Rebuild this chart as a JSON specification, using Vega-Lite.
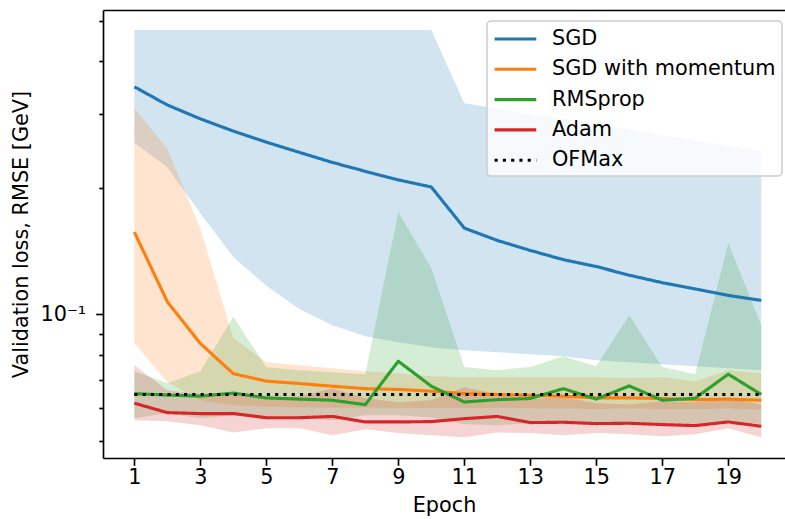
{
  "$schema": "https://vega.github.io/schema/vega-lite/v6.json",
  "width": 682,
  "height": 448,
  "autosize": {"type": "none"},
  "padding": {"left": 103, "top": 10, "right": 0, "bottom": 61},
  "background": "white",
  "config": {
    "view": {"stroke": null},
    "font": "DejaVu Sans",
    "axis": {
      "domainColor": "black", "domainWidth": 1.67, "tickColor": "black", "tickWidth": 1.67,
      "labelColor": "black", "titleColor": "black", "labelFont": "DejaVu Sans", "titleFont": "DejaVu Sans",
      "labelFontSize": 20.8, "titleFontSize": 20.8, "titleFontWeight": "normal", "grid": false
    },
    "legend": {
      "orient": "none", "legendX": 384, "legendY": 11, "title": null,
      "symbolType": "M-1,0H3", "symbolSize": 435, "symbolStrokeWidth": 3.125,
      "labelFont": "DejaVu Sans", "labelFontSize": 20.8, "labelColor": "black", "labelOffset": 35,
      "padding": 6, "fillColor": "rgba(255,255,255,0.8)", "strokeColor": "#cccccc", "strokeWidth": 1.5,
      "cornerRadius": 4, "rowPadding": 8.3, "labelLimit": 400
    }
  },
  "data": {"values": [
    {"epoch": 1, "optimizer": "SGD", "loss": 0.348, "lo": 0.256, "hi": 0.475},
    {"epoch": 2, "optimizer": "SGD", "loss": 0.315, "lo": 0.224, "hi": 0.475},
    {"epoch": 3, "optimizer": "SGD", "loss": 0.292, "lo": 0.174, "hi": 0.475},
    {"epoch": 4, "optimizer": "SGD", "loss": 0.273, "lo": 0.137, "hi": 0.475},
    {"epoch": 5, "optimizer": "SGD", "loss": 0.257, "lo": 0.117, "hi": 0.475},
    {"epoch": 6, "optimizer": "SGD", "loss": 0.243, "lo": 0.103, "hi": 0.475},
    {"epoch": 7, "optimizer": "SGD", "loss": 0.230, "lo": 0.0943, "hi": 0.475},
    {"epoch": 8, "optimizer": "SGD", "loss": 0.219, "lo": 0.0888, "hi": 0.475},
    {"epoch": 9, "optimizer": "SGD", "loss": 0.209, "lo": 0.0859, "hi": 0.475},
    {"epoch": 10, "optimizer": "SGD", "loss": 0.201, "lo": 0.0836, "hi": 0.475},
    {"epoch": 11, "optimizer": "SGD", "loss": 0.1605, "lo": 0.0822, "hi": 0.318},
    {"epoch": 12, "optimizer": "SGD", "loss": 0.150, "lo": 0.0813, "hi": 0.309},
    {"epoch": 13, "optimizer": "SGD", "loss": 0.142, "lo": 0.0804, "hi": 0.300},
    {"epoch": 14, "optimizer": "SGD", "loss": 0.135, "lo": 0.0795, "hi": 0.292},
    {"epoch": 15, "optimizer": "SGD", "loss": 0.130, "lo": 0.0778, "hi": 0.283},
    {"epoch": 16, "optimizer": "SGD", "loss": 0.124, "lo": 0.0770, "hi": 0.275},
    {"epoch": 17, "optimizer": "SGD", "loss": 0.119, "lo": 0.0761, "hi": 0.267},
    {"epoch": 18, "optimizer": "SGD", "loss": 0.115, "lo": 0.0753, "hi": 0.260},
    {"epoch": 19, "optimizer": "SGD", "loss": 0.111, "lo": 0.0745, "hi": 0.252},
    {"epoch": 20, "optimizer": "SGD", "loss": 0.108, "lo": 0.0737, "hi": 0.245},
    {"epoch": 1, "optimizer": "SGD with momentum", "loss": 0.157, "lo": 0.0854, "hi": 0.310},
    {"epoch": 2, "optimizer": "SGD with momentum", "loss": 0.1072, "lo": 0.0690, "hi": 0.2475},
    {"epoch": 3, "optimizer": "SGD with momentum", "loss": 0.0853, "lo": 0.0625, "hi": 0.160},
    {"epoch": 4, "optimizer": "SGD with momentum", "loss": 0.0723, "lo": 0.0608, "hi": 0.0878},
    {"epoch": 5, "optimizer": "SGD with momentum", "loss": 0.0694, "lo": 0.0603, "hi": 0.0770},
    {"epoch": 6, "optimizer": "SGD with momentum", "loss": 0.0685, "lo": 0.0601, "hi": 0.0757},
    {"epoch": 7, "optimizer": "SGD with momentum", "loss": 0.0675, "lo": 0.0600, "hi": 0.0745},
    {"epoch": 8, "optimizer": "SGD with momentum", "loss": 0.0666, "lo": 0.0601, "hi": 0.0733},
    {"epoch": 9, "optimizer": "SGD with momentum", "loss": 0.0663, "lo": 0.0600, "hi": 0.0725},
    {"epoch": 10, "optimizer": "SGD with momentum", "loss": 0.0657, "lo": 0.0599, "hi": 0.0713},
    {"epoch": 11, "optimizer": "SGD with momentum", "loss": 0.0648, "lo": 0.0598, "hi": 0.0709},
    {"epoch": 12, "optimizer": "SGD with momentum", "loss": 0.0645, "lo": 0.0600, "hi": 0.0709},
    {"epoch": 13, "optimizer": "SGD with momentum", "loss": 0.0642, "lo": 0.0598, "hi": 0.0709},
    {"epoch": 14, "optimizer": "SGD with momentum", "loss": 0.0639, "lo": 0.0597, "hi": 0.0709},
    {"epoch": 15, "optimizer": "SGD with momentum", "loss": 0.0633, "lo": 0.0596, "hi": 0.0709},
    {"epoch": 16, "optimizer": "SGD with momentum", "loss": 0.0633, "lo": 0.0597, "hi": 0.0705},
    {"epoch": 17, "optimizer": "SGD with momentum", "loss": 0.0631, "lo": 0.0596, "hi": 0.0709},
    {"epoch": 18, "optimizer": "SGD with momentum", "loss": 0.0627, "lo": 0.0595, "hi": 0.0694},
    {"epoch": 19, "optimizer": "SGD with momentum", "loss": 0.0629, "lo": 0.0597, "hi": 0.0737},
    {"epoch": 20, "optimizer": "SGD with momentum", "loss": 0.0625, "lo": 0.0594, "hi": 0.0725},
    {"epoch": 1, "optimizer": "RMSprop", "loss": 0.0648, "lo": 0.0566, "hi": 0.0733},
    {"epoch": 2, "optimizer": "RMSprop", "loss": 0.0643, "lo": 0.0582, "hi": 0.0686},
    {"epoch": 3, "optimizer": "RMSprop", "loss": 0.0639, "lo": 0.0566, "hi": 0.0733},
    {"epoch": 4, "optimizer": "RMSprop", "loss": 0.0650, "lo": 0.0576, "hi": 0.0987},
    {"epoch": 5, "optimizer": "RMSprop", "loss": 0.0633, "lo": 0.0566, "hi": 0.0749},
    {"epoch": 6, "optimizer": "RMSprop", "loss": 0.0629, "lo": 0.0566, "hi": 0.0737},
    {"epoch": 7, "optimizer": "RMSprop", "loss": 0.0625, "lo": 0.0560, "hi": 0.0729},
    {"epoch": 8, "optimizer": "RMSprop", "loss": 0.0610, "lo": 0.0576, "hi": 0.0721},
    {"epoch": 9, "optimizer": "RMSprop", "loss": 0.0774, "lo": 0.0576, "hi": 0.175},
    {"epoch": 10, "optimizer": "RMSprop", "loss": 0.0675, "lo": 0.0569, "hi": 0.129},
    {"epoch": 11, "optimizer": "RMSprop", "loss": 0.0619, "lo": 0.0548, "hi": 0.0750},
    {"epoch": 12, "optimizer": "RMSprop", "loss": 0.0627, "lo": 0.0545, "hi": 0.0737},
    {"epoch": 13, "optimizer": "RMSprop", "loss": 0.0631, "lo": 0.0551, "hi": 0.0750},
    {"epoch": 14, "optimizer": "RMSprop", "loss": 0.0666, "lo": 0.0554, "hi": 0.0795},
    {"epoch": 15, "optimizer": "RMSprop", "loss": 0.0629, "lo": 0.0545, "hi": 0.0753},
    {"epoch": 16, "optimizer": "RMSprop", "loss": 0.0676, "lo": 0.0551, "hi": 0.0996},
    {"epoch": 17, "optimizer": "RMSprop", "loss": 0.0625, "lo": 0.0548, "hi": 0.0750},
    {"epoch": 18, "optimizer": "RMSprop", "loss": 0.0632, "lo": 0.0542, "hi": 0.0721},
    {"epoch": 19, "optimizer": "RMSprop", "loss": 0.0721, "lo": 0.0560, "hi": 0.148},
    {"epoch": 20, "optimizer": "RMSprop", "loss": 0.0645, "lo": 0.0548, "hi": 0.0943},
    {"epoch": 1, "optimizer": "Adam", "loss": 0.0615, "lo": 0.0560, "hi": 0.0757},
    {"epoch": 2, "optimizer": "Adam", "loss": 0.0584, "lo": 0.0557, "hi": 0.0660},
    {"epoch": 3, "optimizer": "Adam", "loss": 0.0581, "lo": 0.0545, "hi": 0.0646},
    {"epoch": 4, "optimizer": "Adam", "loss": 0.0581, "lo": 0.0524, "hi": 0.0653},
    {"epoch": 5, "optimizer": "Adam", "loss": 0.0568, "lo": 0.0536, "hi": 0.0632},
    {"epoch": 6, "optimizer": "Adam", "loss": 0.0568, "lo": 0.0536, "hi": 0.0639},
    {"epoch": 7, "optimizer": "Adam", "loss": 0.0572, "lo": 0.0516, "hi": 0.0667},
    {"epoch": 8, "optimizer": "Adam", "loss": 0.0555, "lo": 0.0533, "hi": 0.0632},
    {"epoch": 9, "optimizer": "Adam", "loss": 0.0555, "lo": 0.0522, "hi": 0.0618},
    {"epoch": 10, "optimizer": "Adam", "loss": 0.0556, "lo": 0.0516, "hi": 0.0625},
    {"epoch": 11, "optimizer": "Adam", "loss": 0.0565, "lo": 0.0510, "hi": 0.0671},
    {"epoch": 12, "optimizer": "Adam", "loss": 0.0572, "lo": 0.0524, "hi": 0.0646},
    {"epoch": 13, "optimizer": "Adam", "loss": 0.0553, "lo": 0.0522, "hi": 0.0628},
    {"epoch": 14, "optimizer": "Adam", "loss": 0.0554, "lo": 0.0516, "hi": 0.0635},
    {"epoch": 15, "optimizer": "Adam", "loss": 0.0550, "lo": 0.0522, "hi": 0.0615},
    {"epoch": 16, "optimizer": "Adam", "loss": 0.0551, "lo": 0.0519, "hi": 0.0611},
    {"epoch": 17, "optimizer": "Adam", "loss": 0.0547, "lo": 0.0513, "hi": 0.0622},
    {"epoch": 18, "optimizer": "Adam", "loss": 0.0544, "lo": 0.0519, "hi": 0.0618},
    {"epoch": 19, "optimizer": "Adam", "loss": 0.0555, "lo": 0.0536, "hi": 0.0632},
    {"epoch": 20, "optimizer": "Adam", "loss": 0.0542, "lo": 0.0510, "hi": 0.0611},
    {"epoch": 1, "optimizer": "OFMax", "loss": 0.0645},
    {"epoch": 2, "optimizer": "OFMax", "loss": 0.0645},
    {"epoch": 3, "optimizer": "OFMax", "loss": 0.0645},
    {"epoch": 4, "optimizer": "OFMax", "loss": 0.0645},
    {"epoch": 5, "optimizer": "OFMax", "loss": 0.0645},
    {"epoch": 6, "optimizer": "OFMax", "loss": 0.0645},
    {"epoch": 7, "optimizer": "OFMax", "loss": 0.0645},
    {"epoch": 8, "optimizer": "OFMax", "loss": 0.0645},
    {"epoch": 9, "optimizer": "OFMax", "loss": 0.0645},
    {"epoch": 10, "optimizer": "OFMax", "loss": 0.0645},
    {"epoch": 11, "optimizer": "OFMax", "loss": 0.0645},
    {"epoch": 12, "optimizer": "OFMax", "loss": 0.0645},
    {"epoch": 13, "optimizer": "OFMax", "loss": 0.0645},
    {"epoch": 14, "optimizer": "OFMax", "loss": 0.0645},
    {"epoch": 15, "optimizer": "OFMax", "loss": 0.0645},
    {"epoch": 16, "optimizer": "OFMax", "loss": 0.0645},
    {"epoch": 17, "optimizer": "OFMax", "loss": 0.0645},
    {"epoch": 18, "optimizer": "OFMax", "loss": 0.0645},
    {"epoch": 19, "optimizer": "OFMax", "loss": 0.0645},
    {"epoch": 20, "optimizer": "OFMax", "loss": 0.0645}
  ]},
  "resolve": {"axis": {"x": "independent"}},
  "layer": [
    {
      "transform": [{"filter": "datum.optimizer != 'OFMax'"}],
      "mark": {"type": "area", "fillOpacity": 0.2, "strokeWidth": 0},
      "encoding": {
        "x": {"field": "epoch", "type": "quantitative",
              "scale": {"domain": [0.05, 20.72], "nice": false, "zero": false},
              "axis": {"values": [1, 3, 5, 7, 9, 11, 13, 15, 17, 19], "title": "Epoch", "tickSize": 7.3,
                       "labelPadding": 2.5, "titlePadding": 8, "labelFlush": false, "labelOverlap": false}},
        "y": {"field": "lo", "type": "quantitative", "stack": null,
              "scale": {"type": "log", "domain": [0.04555, 0.53], "nice": false, "zero": false},
              "axis": {"values": [0.05, 0.06, 0.07, 0.08, 0.09, 0.1, 0.2, 0.3, 0.4, 0.5],
                       "labelExpr": "datum.value == 0.1 ? '10⁻¹' : ''",
                       "tickSize": {"condition": {"test": "datum.value == 0.1", "value": 7.3}, "value": 4.2},
                       "labelPadding": 10, "labelOverlap": false, "labelBound": false,
                       "title": "Validation loss, RMSE [GeV]", "titlePadding": 8}},
        "y2": {"field": "hi"},
        "fill": {"field": "optimizer", "type": "nominal",
                 "scale": {"domain": ["SGD", "SGD with momentum", "RMSprop", "Adam"],
                           "range": ["#1f77b4", "#ff7f0e", "#2ca02c", "#d62728"]},
                 "legend": null}
      }
    },
    {
      "transform": [{"filter": "datum.optimizer != 'OFMax'"}],
      "mark": {"type": "line", "strokeWidth": 3.125, "strokeJoin": "round"},
      "encoding": {
        "x": {"field": "epoch", "type": "quantitative", "axis": null},
        "y": {"field": "loss", "type": "quantitative", "axis": {"title": "Validation loss, RMSE [GeV]"}},
        "color": {"field": "optimizer", "type": "nominal",
                  "scale": {"domain": ["SGD", "SGD with momentum", "RMSprop", "Adam", "OFMax"],
                            "range": ["#1f77b4", "#ff7f0e", "#2ca02c", "#d62728", "#000000"]}},
        "strokeDash": {"field": "optimizer", "type": "nominal",
                       "scale": {"domain": ["SGD", "SGD with momentum", "RMSprop", "Adam", "OFMax"],
                                 "range": [[1, 0], [1, 0], [1, 0], [1, 0], [3.125, 5.156]]}}
      }
    },
    {
      "transform": [{"filter": "datum.optimizer == 'OFMax'"}],
      "mark": {"type": "line", "strokeWidth": 3.125},
      "encoding": {
        "x": {"field": "epoch", "type": "quantitative",
              "axis": {"orient": "top", "labels": false, "ticks": false, "title": null, "domain": true}},
        "y": {"field": "loss", "type": "quantitative", "axis": {"title": "Validation loss, RMSE [GeV]"}},
        "color": {"field": "optimizer", "type": "nominal"},
        "strokeDash": {"field": "optimizer", "type": "nominal"}
      }
    }
  ]
}
